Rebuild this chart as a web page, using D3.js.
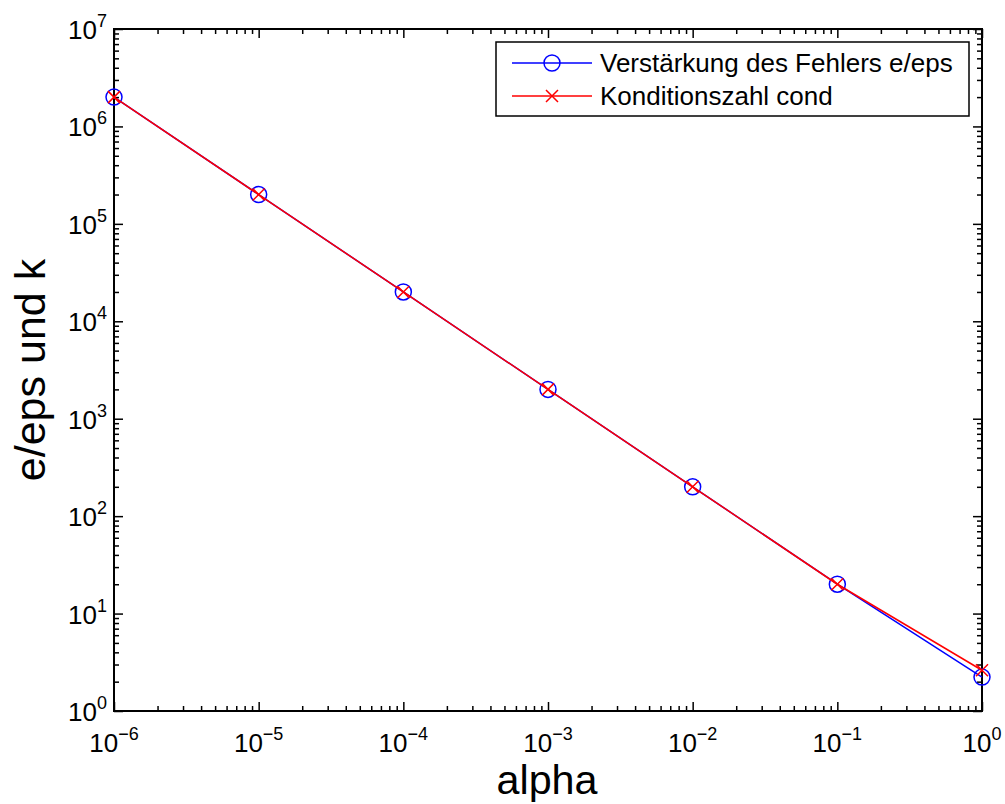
<!DOCTYPE html>
<html>
<head>
<meta charset="utf-8">
<script src="https://cdn.jsdelivr.net/npm/d3@7"></script>
<style>
  body { margin: 0; background: white; }
  text { font-family: "Liberation Sans", Arial, sans-serif; }
</style>
</head>
<body>
<div id="chart"></div>
<script>
// data
const alpha = [1e-6, 1e-5, 1e-4, 1e-3, 1e-2, 1e-1, 1];
const errorGain = [2e6, 2e5, 2e4, 2e3, 200, 20, 2.23];   // e/eps
const condNumber = [2e6, 2e5, 2e4, 2e3, 200, 20, 2.62];  // cond
const xDecades = [-6, -5, -4, -3, -2, -1, 0];
const yDecades = [0, 1, 2, 3, 4, 5, 6, 7];
const legendLabels = ["Verstärkung des Fehlers e/eps", "Konditionszahl cond"];

const width = 1005, height = 804;
const margin = {top: 29, right: 23, bottom: 93, left: 114};
const blue = "#0000ff", red = "#ff0000";

const svg = d3.select("#chart").append("svg")
  .attr("width", width)
  .attr("height", height)
  .style("background", "white");

const x = d3.scaleLog().domain([1e-6, 1]).range([margin.left, width - margin.right]);
const y = d3.scaleLog().domain([1, 1e7]).range([height - margin.bottom, margin.top]);

const x0 = margin.left, x1 = width - margin.right;
const y0 = height - margin.bottom, y1 = margin.top;

// minor ticks 2..9 per decade
const minorX = [], minorY = [];
xDecades.slice(0, -1).forEach(d => { for (let k = 2; k < 10; k++) minorX.push(k * Math.pow(10, d)); });
yDecades.slice(0, -1).forEach(d => { for (let k = 2; k < 10; k++) minorY.push(k * Math.pow(10, d)); });
const majorX = xDecades.map(d => Math.pow(10, d));
const majorY = yDecades.map(d => Math.pow(10, d));

function tickAxis(axisFn, scale, vals, size, transform) {
  const g = svg.append("g")
    .attr("transform", transform)
    .call(axisFn(scale).tickValues(vals).tickSizeInner(size).tickSizeOuter(0).tickFormat(""));
  g.select(".domain").remove();
  g.selectAll("line").attr("stroke", "black").attr("stroke-width", 1.5);
}

tickAxis(d3.axisBottom, x, majorX, -9, `translate(0,${y0})`);
tickAxis(d3.axisBottom, x, minorX, -5, `translate(0,${y0})`);
tickAxis(d3.axisTop, x, majorX, -9, `translate(0,${y1})`);
tickAxis(d3.axisTop, x, minorX, -5, `translate(0,${y1})`);
tickAxis(d3.axisLeft, y, majorY, -9, `translate(${x0},0)`);
tickAxis(d3.axisLeft, y, minorY, -5, `translate(${x0},0)`);
tickAxis(d3.axisRight, y, majorY, -9, `translate(${x1},0)`);
tickAxis(d3.axisRight, y, minorY, -5, `translate(${x1},0)`);

// box
svg.append("rect")
  .attr("x", x0).attr("y", y1)
  .attr("width", x1 - x0).attr("height", y0 - y1)
  .attr("fill", "none").attr("stroke", "black").attr("stroke-width", 2);

// tick labels with superscripts
function powLabel(g, e) {
  g.append("tspan").text("10");
  g.append("tspan").attr("dy", -12).style("font-size", "18px").text(e < 0 ? "\u2212" + (-e) : e);
}

xDecades.forEach(e => {
  const t = svg.append("text")
    .attr("x", x(Math.pow(10, e)))
    .attr("y", y0 + 41)
    .attr("text-anchor", "middle")
    .style("font-size", "26px");
  powLabel(t, e);
});

yDecades.forEach(e => {
  const t = svg.append("text")
    .attr("x", 68)
    .attr("y", y(Math.pow(10, e)) + 10)
    .style("font-size", "26px");
  powLabel(t, e);
});

// axis titles
svg.append("text")
  .attr("x", 547)
  .attr("y", 794)
  .attr("text-anchor", "middle")
  .attr("textLength", 101)
  .attr("lengthAdjust", "spacingAndGlyphs")
  .style("font-size", "40px")
  .text("alpha");

svg.append("text")
  .attr("transform", `translate(45,${(y0 + y1) / 2}) rotate(-90)`)
  .attr("text-anchor", "middle")
  .style("font-size", "43px")
  .text("e/eps und k");

// series
const line = d3.line().x(d => x(d[0])).y(d => y(d[1]));
const blueData = alpha.map((a, i) => [a, errorGain[i]]);
const redData = alpha.map((a, i) => [a, condNumber[i]]);

svg.append("path").datum(blueData)
  .attr("d", line).attr("fill", "none").attr("stroke", blue).attr("stroke-width", 1.5);
svg.selectAll(".circ").data(blueData).enter().append("circle")
  .attr("cx", d => x(d[0])).attr("cy", d => y(d[1])).attr("r", 8)
  .attr("fill", "none").attr("stroke", blue).attr("stroke-width", 1.5);

svg.append("path").datum(redData)
  .attr("d", line).attr("fill", "none").attr("stroke", red).attr("stroke-width", 1.5);

function cross(g, cx, cy, s) {
  g.append("path")
    .attr("d", `M${cx - s},${cy - s}L${cx + s},${cy + s}M${cx - s},${cy + s}L${cx + s},${cy - s}`)
    .attr("stroke", red).attr("stroke-width", 1.5).attr("fill", "none");
}
redData.forEach(d => cross(svg, x(d[0]), y(d[1]), 6));

// legend
const lg = svg.append("g");
lg.append("rect")
  .attr("x", 496).attr("y", 42).attr("width", 473).attr("height", 74)
  .attr("fill", "white").attr("stroke", "black").attr("stroke-width", 1.5);
[63, 96].forEach((ly, i) => {
  lg.append("line").attr("x1", 512).attr("x2", 592).attr("y1", ly).attr("y2", ly)
    .attr("stroke", i === 0 ? blue : red).attr("stroke-width", 1.5);
  if (i === 0) {
    lg.append("circle").attr("cx", 552).attr("cy", ly).attr("r", 8)
      .attr("fill", "none").attr("stroke", blue).attr("stroke-width", 1.5);
  } else {
    cross(lg, 552, ly, 6);
  }
  lg.append("text").attr("x", 600).attr("y", ly + 9)
    .style("font-size", "26px").text(legendLabels[i]);
});
</script>
</body>
</html>
